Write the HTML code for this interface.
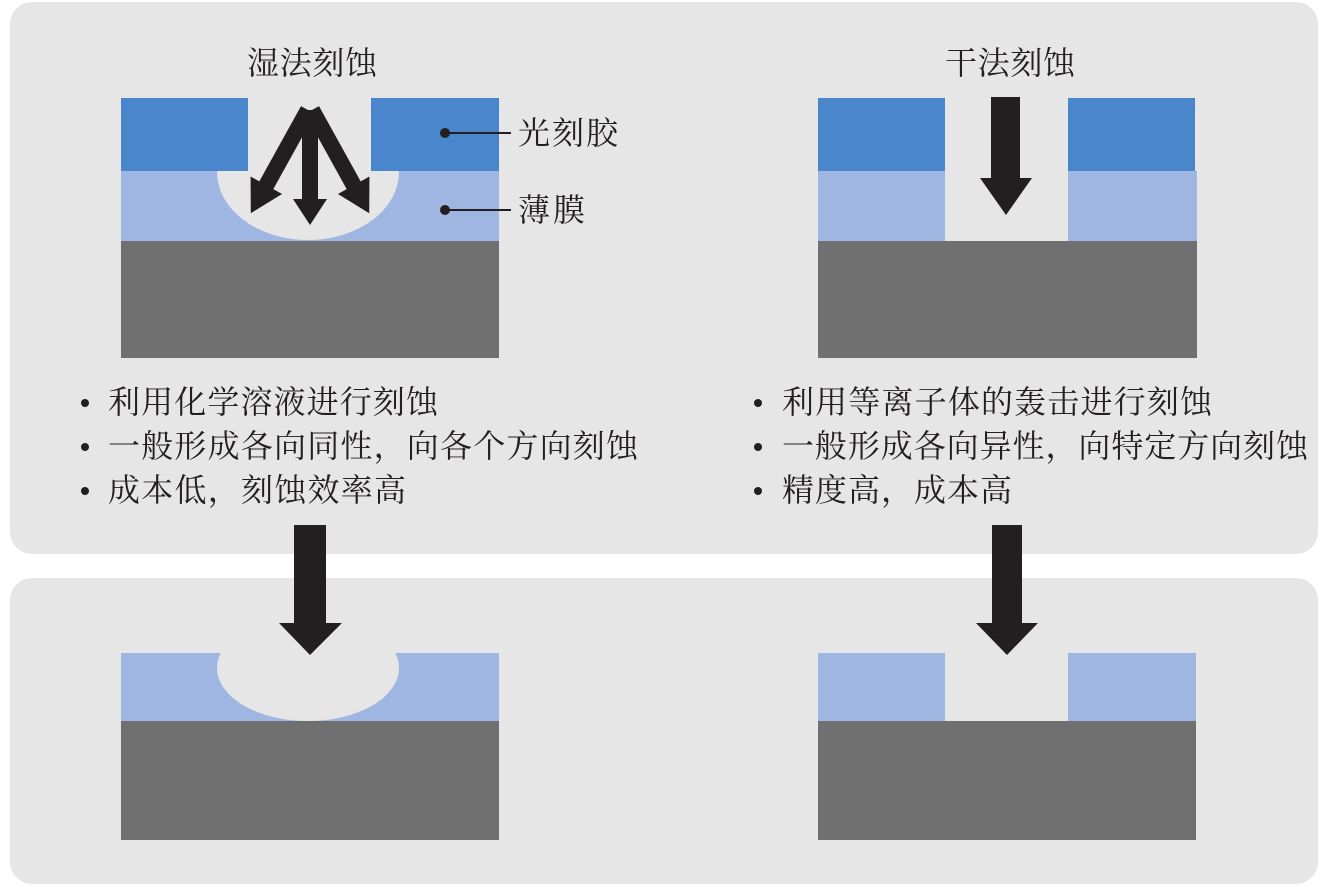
<!DOCTYPE html>
<html><head><meta charset="utf-8"><style>
html,body{margin:0;padding:0;background:#fff;}
svg{display:block;}
text{font-family:"Liberation Serif","Noto Serif CJK SC",serif;fill:#231f20;}
</style></head><body>
<svg width="1325" height="888" viewBox="0 0 1325 888" xmlns="http://www.w3.org/2000/svg">
<defs>
<clipPath id="c1"><rect x="121" y="98" width="378" height="143"/></clipPath>
<clipPath id="c2"><rect x="121" y="653" width="378" height="68"/></clipPath>
</defs>
<rect x="10" y="2" width="1308" height="552" rx="22" fill="#e6e6e6"/>
<rect x="10" y="578" width="1308" height="306" rx="22" fill="#e6e6e6"/>

<!-- wet top -->
<rect x="121" y="171" width="378" height="70" fill="#9fb6e2"/>
<ellipse cx="308" cy="172" rx="91" ry="68" fill="#e6e6e6" clip-path="url(#c1)"/>
<rect x="121" y="98" width="127" height="73" fill="#4a86cc"/>
<rect x="371" y="98" width="128" height="73" fill="#4a86cc"/>
<rect x="121" y="241" width="378" height="117" fill="#717071"/>
<g fill="#231f20">
<polygon points="302,110 318,110 318,199 327,199 310,225 293,199 302,199"/>
<g transform="translate(308,110) rotate(29)"><polygon points="-8,0 8,0 8,86 18,86 0,118 -18,86 -8,86"/></g>
<g transform="translate(312,110) rotate(-29)"><polygon points="-8,0 8,0 8,86 18,86 0,118 -18,86 -8,86"/></g>
</g>
<text x="247" y="74" font-size="32" textLength="130">湿法刻蚀</text>
<circle cx="445" cy="133" r="5" fill="#231f20"/>
<line x1="445" y1="133" x2="511" y2="133" stroke="#231f20" stroke-width="2"/>
<text x="518" y="144" font-size="32" textLength="100">光刻胶</text>
<circle cx="445" cy="210" r="5" fill="#231f20"/>
<line x1="445" y1="210" x2="511" y2="210" stroke="#231f20" stroke-width="2"/>
<text x="518" y="221" font-size="32" textLength="67">薄膜</text>

<!-- dry top -->
<rect x="818" y="98" width="127" height="73" fill="#4a86cc"/>
<rect x="1068" y="98" width="127" height="73" fill="#4a86cc"/>
<rect x="818" y="171" width="127" height="70" fill="#9fb6e2"/>
<rect x="1068" y="171" width="129" height="70" fill="#9fb6e2"/>
<rect x="818" y="241" width="379" height="117" fill="#717071"/>
<polygon fill="#231f20" points="991,97 1020,97 1020,178 1032,178 1006,215 980,178 991,178"/>
<text x="945" y="74" font-size="32" textLength="130">干法刻蚀</text>

<!-- bullets -->
<g fill="#231f20">
<circle cx="85" cy="403" r="4"/><circle cx="85" cy="447" r="4"/><circle cx="85" cy="491" r="4"/>
<circle cx="758" cy="403" r="4"/><circle cx="758" cy="447" r="4"/><circle cx="758" cy="491" r="4"/>
</g>
<g font-size="32">
<text x="108" y="413" textLength="330">利用化学溶液进行刻蚀</text>
<text x="108" y="457" textLength="530">一般形成各向同性，向各个方向刻蚀</text>
<text x="108" y="501" textLength="298">成本低，刻蚀效率高</text>
<text x="782" y="413" textLength="430">利用等离子体的轰击进行刻蚀</text>
<text x="782" y="457" textLength="526">一般形成各向异性，向特定方向刻蚀</text>
<text x="782" y="501" textLength="230">精度高，成本高</text>
</g>

<!-- bottom wet -->
<rect x="121" y="653" width="378" height="68" fill="#9fb6e2"/>
<ellipse cx="308" cy="668" rx="91" ry="53" fill="#e6e6e6" clip-path="url(#c2)"/>
<rect x="121" y="721" width="378" height="119" fill="#717071"/>
<polygon fill="#231f20" points="294,525 326,525 326,623 342,623 310,655 279,623 294,623"/>

<!-- bottom dry -->
<rect x="818" y="653" width="127" height="68" fill="#9fb6e2"/>
<rect x="1068" y="653" width="128" height="68" fill="#9fb6e2"/>
<rect x="818" y="721" width="378" height="119" fill="#717071"/>
<polygon fill="#231f20" points="992,525 1022,525 1022,623 1038,623 1007,655 976,623 992,623"/>
</svg>
</body></html>
